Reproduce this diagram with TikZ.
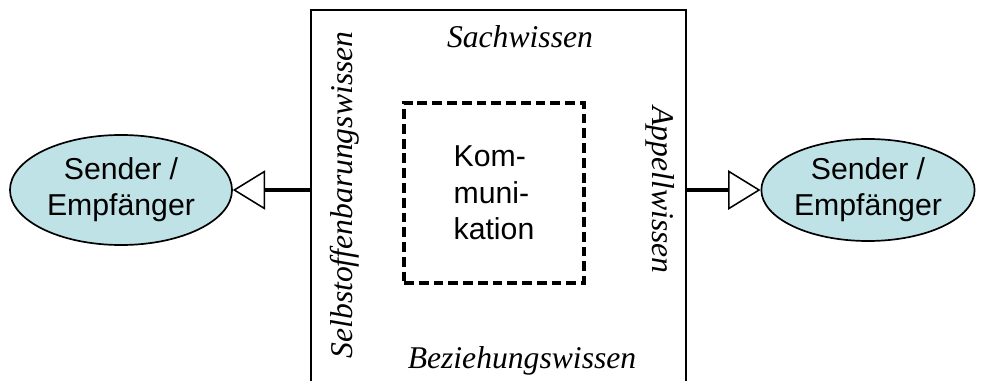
\documentclass[tikz,border=0pt]{standalone}
\usepackage{fontspec}
\setmainfont{Liberation Serif}
\setsansfont{Liberation Sans}
\usetikzlibrary{shapes.geometric,arrows.meta}
\definecolor{partnerblau}{RGB}{190,226,230}

\begin{document}
\begin{tikzpicture}[x=0.025cm,y=-0.025cm,
        partner/.style={ellipse,draw,line width=1.2pt,fill=partnerblau,inner sep=0pt,align=center,
            font=\sffamily\fontsize{21.5}{25.5}\selectfont},
        wissen/.style={font=\itshape\fontsize{22.5}{26}\selectfont,inner sep=0pt},
        pfeil/.style={line width=3.2pt,-{Triangle[open,length=23pt,width=28pt,line width=1.1pt]}}]
    \clip (0,0) rectangle (981,381);

    \node [draw,line width=1.5pt,minimum width=9.375cm,minimum height=9.75cm] (seiten) at (498.5,205) {};
    \node [draw,line width=2.6pt,dash pattern=on 7pt off 3.5pt,minimum width=4.5cm,minimum height=4.5cm,
        align=left,font=\sffamily\fontsize{21.5}{26}\selectfont] (komm) at (494,193) {Kom-\\muni-\\kation};

    \node [wissen,anchor=base] (sach) at (520,48) {Sachwissen};
    \node [wissen,anchor=base] (bez) at (522,368) {Beziehungswissen};
    \node [wissen,anchor=base,rotate=90] (selbst) at (352,195) {Selbstoffenbarungswissen};
    \node [wissen,anchor=base,rotate=-90] (appell) at (652,190) {Appellwissen};

    \node [partner,minimum width=5.55cm,minimum height=2.75cm] (links) at (121,190) {Sender /\\Empfänger};
    \node [partner,minimum width=5.33cm,minimum height=2.55cm] (rechts) at (868,190) {Sender /\\Empfänger};

    \draw [pfeil] (seiten.west |- links.east) -- (links.east);
    \draw [pfeil] (seiten.east |- rechts.west) -- (rechts.west);
\end{tikzpicture}
\end{document}
